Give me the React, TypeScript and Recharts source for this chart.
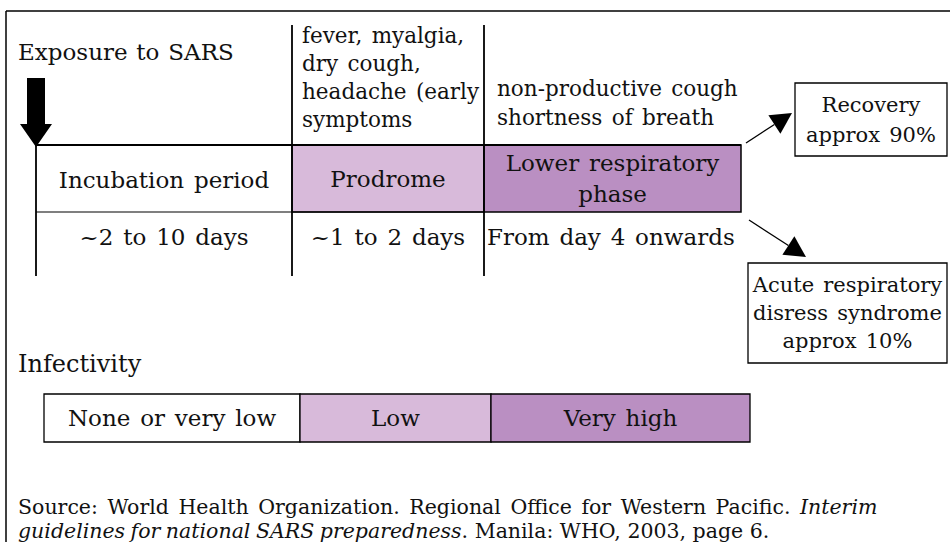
import { ComposedChart, XAxis, YAxis, ReferenceArea, ReferenceLine } from 'recharts'

// clinical phases of SARS along the timeline (span = relative length on the diagram)
const phaseNames = ['Incubation period', 'Prodrome', 'Lower respiratory\nphase']
const phaseDurations = ['~2 to 10 days', '~1 to 2 days', 'From day 4 onwards']
const phaseSymptoms = ['', 'fever, myalgia,\ndry cough,\nheadache (early\nsymptoms', 'non-productive cough\nshortness of breath']
const phaseSpans = [256, 192, 257]

const infectivityLevels = ['None or very low', 'Low', 'Very high']
const infectivitySpans = [256, 191, 259]

const outcomeLabels = ['Recovery\napprox 90%', 'Acute respiratory\ndisress syndrome\napprox 10%']

const W = 950
const H = 542
const FONT = '"DejaVu Serif", serif'
const INK = '#111'
const fills = ['#ffffff', '#d8bada', '#ba8fc2']

const edges = (start: number, spans: number[]) =>
  spans.reduce<number[]>((acc, s) => [...acc, acc[acc.length - 1] + s], [start])

type TextOpts = { size: number; lh: number; anchor?: 'start' | 'middle'; dx?: number; dy?: number; ws?: number }

const linesLabel = (text: string, o: TextOpts) => (props: any) => {
  const { x, y, width, height } = props.viewBox
  const lines = text.split('\n')
  const anchor = o.anchor ?? 'middle'
  const tx = anchor === 'start' ? x + (o.dx ?? 0) : x + width / 2
  const y0 = y + height / 2 - (o.lh * (lines.length - 1)) / 2 + (o.dy ?? 0)
  return (
    <text fontFamily={FONT} fontSize={o.size} fill={INK} textAnchor={anchor} style={{ wordSpacing: o.ws ?? 2.5 }}>
      {lines.map((l, i) => (
        <tspan key={i} x={tx} y={y0 + i * o.lh} dy="0.35em">{l}</tspan>
      ))}
    </text>
  )
}

const arrowShape = (head: number, half: number) => (p: any) => {
  const { x1, y1, x2, y2 } = p
  const a = Math.atan2(y2 - y1, x2 - x1)
  const bx = x2 - head * Math.cos(a)
  const by = y2 - head * Math.sin(a)
  const nx = -Math.sin(a) * half
  const ny = Math.cos(a) * half
  return (
    <g>
      <line x1={x1} y1={y1} x2={bx} y2={by} stroke="#000" strokeWidth={1.3} />
      <polygon points={`${x2},${y2} ${bx + nx},${by + ny} ${bx - nx},${by - ny}`} fill="#000" />
    </g>
  )
}

const blockArrow = (p: any) => {
  const { x1, y1, x2, y2 } = p
  const shaft = 9
  const half = 16
  const hy = y2 - 23
  return (
    <polygon
      points={`${x1 - shaft},${y1} ${x1 + shaft},${y1} ${x1 + shaft},${hy} ${x1 + half},${hy} ${x2},${y2} ${x1 - half},${hy} ${x1 - shaft},${hy}`}
      fill="#000"
    />
  )
}

export default function App() {
  const px = edges(36, phaseSpans)
  const ix = edges(44, infectivitySpans)
  const boxTop = 145
  const boxMid = 212
  const lineEnd = 276

  return (
    <div style={{ position: 'absolute', left: 0, top: 0, background: '#fff' }}>
      <ComposedChart width={W} height={H} data={[]} margin={{ top: 0, right: 0, bottom: 0, left: 0 }}>
        <XAxis type="number" dataKey="x" domain={[0, W]} allowDataOverflow hide />
        <YAxis type="number" dataKey="y" domain={[0, H]} allowDataOverflow reversed hide />

        {/* frame */}
        <ReferenceLine segment={[{ x: 6, y: 11 }, { x: W, y: 11 }]} stroke="#000" strokeWidth={1.5} />
        <ReferenceLine segment={[{ x: 6, y: 11 }, { x: 6, y: H }]} stroke="#000" strokeWidth={1.5} />

        {/* phase boxes */}
        {phaseNames.map((name, i) => (
          <ReferenceArea
            key={name}
            x1={px[i]} x2={px[i + 1]} y1={boxTop} y2={boxMid}
            fill={fills[i]} fillOpacity={1} stroke={i === 0 ? 'none' : '#000'} strokeWidth={1.5}
            label={{ content: linesLabel(name, { size: 23, lh: 31, dy: i === 0 ? 1 : 0 }) }}
          />
        ))}
        <ReferenceLine segment={[{ x: px[0], y: boxTop }, { x: px[3], y: boxTop }]} stroke="#000" strokeWidth={1.8} />
        <ReferenceLine segment={[{ x: px[0], y: boxMid }, { x: px[2], y: boxMid }]} stroke="#000" strokeWidth={1.2} />
        <ReferenceLine segment={[{ x: px[0], y: boxTop }, { x: px[0], y: lineEnd }]} stroke="#000" strokeWidth={1.8} />
        <ReferenceLine segment={[{ x: px[1], y: 25 }, { x: px[1], y: lineEnd }]} stroke="#000" strokeWidth={1.8} />
        <ReferenceLine segment={[{ x: px[2], y: 25 }, { x: px[2], y: lineEnd }]} stroke="#000" strokeWidth={1.8} />

        {/* durations */}
        {phaseDurations.map((d, i) => (
          <ReferenceArea
            key={d}
            x1={px[i]} x2={px[i + 1]} y1={boxMid} y2={262}
            fill="none" stroke="none"
            label={{ content: linesLabel(d, i === 2 ? { size: 23, lh: 28, anchor: 'start', dx: 3 } : { size: 23, lh: 28 }) }}
          />
        ))}

        {/* symptoms */}
        {phaseSymptoms.map((s, i) =>
          s ? (
            <ReferenceArea
              key={s}
              x1={px[i]} x2={px[i + 1]} y1={i === 1 ? 35 : 88} y2={i === 1 ? 119 : 117}
              fill="none" stroke="none"
              label={{ content: linesLabel(s, { size: 21.5, lh: i === 1 ? 28 : 29, anchor: 'start', dx: i === 1 ? 10 : 13 }) }}
            />
          ) : null
        )}

        {/* exposure */}
        <ReferenceArea
          x1={14} x2={250} y1={38} y2={66} fill="none" stroke="none"
          label={{ content: linesLabel('Exposure to SARS', { size: 23, lh: 28, anchor: 'start', dx: 4, ws: 1.5 }) }}
        />
        <ReferenceLine segment={[{ x: 36, y: 78 }, { x: 36, y: 147 }]} shape={blockArrow} />

        {/* outcomes */}
        <ReferenceArea
          x1={795} x2={947} y1={83} y2={156} fill="#fff" fillOpacity={1} stroke="#000" strokeWidth={1.3}
          label={{ content: linesLabel(outcomeLabels[0], { size: 21, lh: 30 }) }}
        />
        <ReferenceArea
          x1={748} x2={947} y1={263} y2={363} fill="#fff" fillOpacity={1} stroke="#000" strokeWidth={1.3}
          label={{ content: linesLabel(outcomeLabels[1], { size: 21, lh: 28 }) }}
        />
        <ReferenceLine segment={[{ x: 746, y: 143 }, { x: 792, y: 113 }]} shape={arrowShape(21, 11)} />
        <ReferenceLine segment={[{ x: 749, y: 220 }, { x: 806, y: 257 }]} shape={arrowShape(21, 11)} />

        {/* infectivity */}
        <ReferenceArea
          x1={14} x2={200} y1={350} y2={378} fill="none" stroke="none"
          label={{ content: linesLabel('Infectivity', { size: 24, lh: 28, anchor: 'start', dx: 4 }) }}
        />
        {infectivityLevels.map((lvl, i) => (
          <ReferenceArea
            key={lvl}
            x1={ix[i]} x2={ix[i + 1]} y1={394} y2={442}
            fill={fills[i]} fillOpacity={1} stroke="#000" strokeWidth={1.3}
            label={{ content: linesLabel(lvl, { size: 23, lh: 28 }) }}
          />
        ))}

        {/* source */}
        <ReferenceArea
          x1={14} x2={940} y1={495} y2={540} fill="none" stroke="none"
          label={{
            content: (props: any) => {
              const { x } = props.viewBox
              return (
                <text fontFamily={FONT} fontSize={20.5} fill={INK}>
                  <tspan x={x + 4} y={514} style={{ wordSpacing: 3 }}>Source: World Health Organization. Regional Office for Western Pacific. </tspan>
                  <tspan fontStyle="italic">Interim</tspan>
                  <tspan x={x + 4} y={538} fontStyle="italic" style={{ wordSpacing: -1 }}>guidelines for national SARS preparedness</tspan>
                  <tspan>. Manila: WHO, 2003, page 6.</tspan>
                </text>
              )
            },
          }}
        />
      </ComposedChart>
    </div>
  )
}
